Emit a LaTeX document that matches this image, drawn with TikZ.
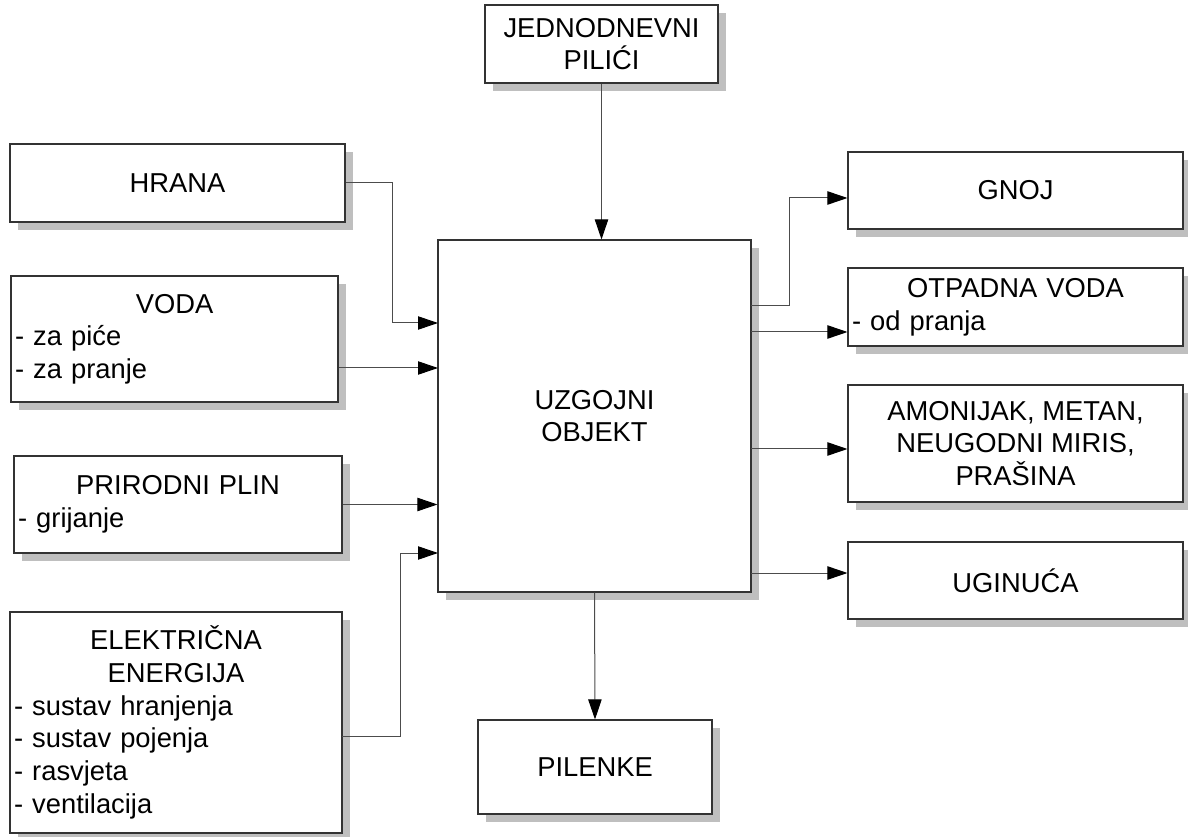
\documentclass[tikz,border=0pt]{standalone}
\usepackage{fontspec}
\setmainfont{Liberation Sans}
\usepackage{tikz}
\usetikzlibrary{arrows.meta,shadows}
\newcommand{\ctrline}[1]{\makebox[\linewidth]{#1}}
\tikzset{
   box/.style={draw=black!80, fill=white, line width=0.8pt, inner sep=3pt,
               drop shadow={shadow xshift=6pt, shadow yshift=-6pt, fill=black!25, opacity=1},
               font=\fontsize{20.5}{24.5}\selectfont, align=center},
   listbox/.style={box, align=left},
   conn/.style={draw=black!70, line width=0.75pt, -{Triangle[length=15pt,width=10pt,color=black]}},
}
\begin{document}
\begin{tikzpicture}[x=0.75pt,y=-0.75pt]
\useasboundingbox (0,0) rectangle (1188,837);

% centre
\node[box, minimum width=234.75pt, minimum height=264pt] (uzg) at (594.5,416) {UZGOJNI\\OBJEKT};
\node[box, minimum width=174.75pt, minimum height=58.5pt] (pilici) at (601.5,44) {JEDNODNEVNI\\PILIĆI};
\node[box, minimum width=175.5pt, minimum height=70.5pt] (pilenke) at (595,767) {PILENKE};

% inputs
\node[box, minimum width=251.25pt, minimum height=58.5pt] (hrana) at (177.5,183) {HRANA};
\node[listbox, text width=239.25pt, minimum height=94.5pt] (voda) at (174.5,339)
   {\ctrline{VODA}\\- za piće\\- za pranje};
\node[listbox, text width=240pt, minimum height=72.75pt] (plin) at (178,504.5)
   {\ctrline{PRIRODNI PLIN}\\- grijanje};
\node[listbox, text width=243pt, minimum height=165.75pt] (struja) at (176,722.5)
   {\ctrline{ELEKTRIČNA}\\\ctrline{ENERGIJA}\\- sustav hranjenja\\- sustav pojenja\\- rasvjeta\\- ventilacija};

% outputs
\node[box, minimum width=251.25pt, minimum height=57.75pt] (gnoj) at (1015.5,190.5) {GNOJ};
\node[listbox, text width=245.25pt, minimum height=58.5pt] (otpad) at (1015.5,307)
   {\ctrline{OTPADNA VODA}\\- od pranja};
\node[box, minimum width=251.25pt, minimum height=87.75pt] (plinovi) at (1015.5,443.5)
   {AMONIJAK, METAN,\\NEUGODNI MIRIS,\\PRAŠINA};
\node[box, minimum width=251.25pt, minimum height=57.75pt] (uginuca) at (1015.5,580.5) {UGINUĆA};

% connector ends on the centre box
\coordinate (inHrana) at (438,323);
\coordinate (inVoda) at (438,368);
\coordinate (inStruja) at (438,553);
\coordinate (outStruja) at (342,736);
\coordinate (outGnoj) at (751,306);
\coordinate (outOtpad) at (751,332);
\coordinate (outPlinovi) at (751,449);
\coordinate (outUginuca) at (751,573);

\path[conn] (pilici.south) -- (pilici.south |- uzg.north);
\path[conn] (hrana.east) -- (392,183) |- (inHrana);
\path[conn] (voda.east |- inVoda) -- (inVoda);
\path[conn] (plin.east) -- (plin.east -| uzg.west);
\path[conn] (outStruja) -- (400,736) |- (inStruja);

\path[conn] (outGnoj) -- (789,306) |- (gnoj.west |- 0,198);
\path[conn] (outOtpad) -- (otpad.west |- outOtpad);
\path[conn] (outPlinovi) -- (plinovi.west |- outPlinovi);
\path[conn] (outUginuca) -- (uginuca.west |- outUginuca);
\path[conn] (uzg.south) -- (pilenke.north);

\end{tikzpicture}
\end{document}
